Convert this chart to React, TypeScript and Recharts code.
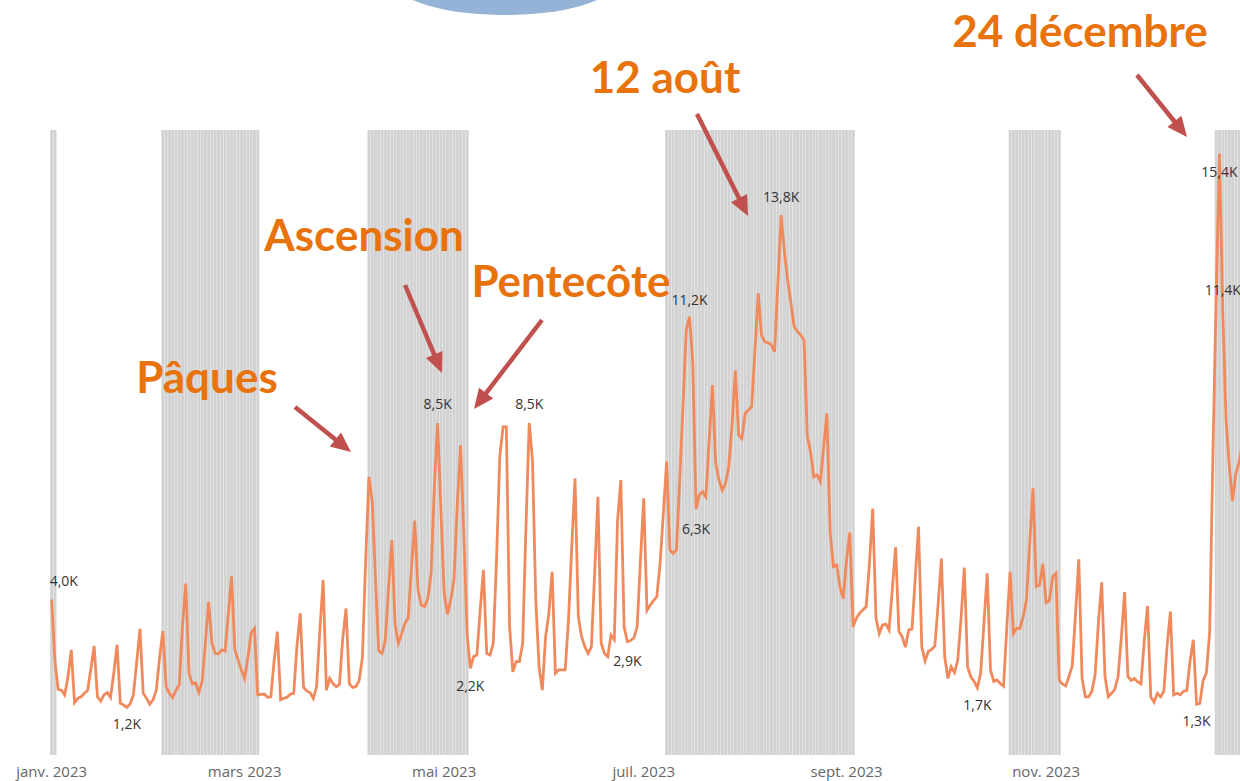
import { ComposedChart, Bar, Line, XAxis, YAxis } from 'recharts'

// Visites quotidiennes 2023, en milliers (lecture du graphique)
const JANV = [3.98, 2.4, 1.68, 1.66, 1.54, 2.0, 2.69, 1.34, 1.45, 1.49, 1.58, 1.65, 2.2, 2.79, 1.49, 1.38, 1.54, 1.6, 1.47, 2.1, 2.82, 1.32, 1.28, 1.22, 1.31, 1.54, 2.38, 3.23, 1.58, 1.45, 1.3]
const FEVR = [1.41, 1.66, 2.5, 3.17, 1.75, 1.58, 1.47, 1.66, 1.79, 3.3, 4.39, 2.09, 1.82, 1.85, 1.6, 1.88, 2.88, 3.92, 2.86, 2.6, 2.59, 2.69, 2.66, 3.6, 4.58, 2.69, 2.43, 2.18]
const MARS = [1.96, 2.5, 3.13, 3.24, 1.54, 1.55, 1.56, 1.48, 1.49, 2.4, 3.16, 1.41, 1.45, 1.48, 1.56, 1.58, 2.8, 3.63, 1.73, 1.64, 1.6, 1.45, 1.75, 3.2, 4.48, 1.66, 1.96, 1.83, 1.75, 1.81, 3.0]
const AVR = [3.75, 1.82, 1.73, 1.75, 1.9, 2.5, 5.0, 7.12, 6.5, 4.5, 2.67, 2.6, 2.94, 4.3, 5.5, 3.33, 2.86, 3.1, 3.37, 3.5, 4.8, 6.0, 4.22, 3.84, 3.8, 4.0, 4.65, 6.87, 8.5, 6.27]
const MAI = [4.14, 3.6, 3.97, 4.5, 6.4, 7.93, 5.67, 3.1, 2.22, 2.52, 2.56, 3.7, 4.74, 2.6, 2.56, 2.86, 4.99, 7.64, 8.4, 8.4, 3.28, 2.13, 2.39, 2.39, 2.86, 5.84, 8.5, 7.55, 3.97, 2.26, 1.66]
const JUIN = [3.03, 3.63, 4.69, 2.09, 2.18, 2.18, 2.18, 3.46, 5.33, 7.08, 3.54, 3.03, 2.77, 2.6, 2.77, 4.65, 6.61, 2.86, 2.6, 2.52, 3.07, 2.95, 6.0, 7.04, 3.28, 2.9, 2.93, 3.0, 3.28, 4.99]
const JUIL = [6.57, 3.7, 3.84, 3.95, 4.05, 4.9, 6.19, 7.51, 5.25, 5.16, 5.25, 7.04, 8.92, 10.88, 11.22, 10.03, 6.3, 6.66, 6.74, 6.61, 8.06, 9.47, 7.47, 7.04, 6.78, 6.95, 7.38, 8.45, 9.85, 8.19, 8.1]
const AOUT = [8.75, 8.83, 8.92, 10.37, 11.82, 10.75, 10.58, 10.55, 10.5, 10.32, 12.06, 13.82, 12.88, 12.16, 11.56, 10.96, 10.84, 10.75, 10.62, 8.15, 7.76, 7.12, 7.17, 7.0, 7.89, 8.75, 5.67, 4.82, 4.86, 4.3, 4.0]
const SEPT = [5.0, 5.7, 3.28, 3.5, 3.63, 3.71, 3.8, 4.9, 6.31, 3.5, 3.11, 3.33, 3.35, 3.2, 4.26, 5.32, 3.16, 3.03, 2.76, 3.2, 3.22, 4.53, 5.84, 2.77, 2.41, 2.65, 2.7, 2.79, 3.86, 5.03]
const OCT = [2.52, 1.96, 2.26, 2.11, 2.43, 3.49, 4.8, 2.26, 2.0, 1.88, 1.72, 2.09, 3.37, 4.65, 2.18, 1.88, 1.92, 1.83, 1.76, 3.29, 4.69, 3.11, 3.24, 3.24, 3.54, 3.97, 5.42, 6.83, 4.31, 4.35, 4.9]
const NOV = [3.9, 3.95, 4.56, 4.65, 1.91, 1.82, 1.77, 2.01, 2.29, 3.6, 5.01, 1.96, 1.49, 1.49, 1.63, 2.06, 3.4, 4.42, 2.01, 1.49, 1.58, 1.68, 2.01, 3.0, 4.17, 2.01, 1.91, 1.96, 1.87, 1.82]
const DEC = [2.9, 3.81, 1.49, 1.35, 1.58, 1.49, 1.63, 2.8, 3.67, 1.54, 1.58, 1.54, 1.63, 1.65, 2.4, 2.95, 1.3, 1.32, 1.91, 2.1, 3.14, 7.7, 11.8, 15.4, 11.4, 8.6, 7.4, 6.5, 7.2, 7.5, 8.0]

const MOIS = [JANV, FEVR, MARS, AVR, MAI, JUIN, JUIL, AOUT, SEPT, OCT, NOV, DEC]

// Vacances scolaires (toutes zones)
const VACANCES = [
  ['2023-01-01', '2023-01-02'],
  ['2023-02-04', '2023-03-05'],
  ['2023-04-08', '2023-05-08'],
  ['2023-07-08', '2023-09-03'],
  ['2023-10-21', '2023-11-05'],
  ['2023-12-23', '2023-12-31'],
]

const TICK_DATES = ['2023-01-01', '2023-03-01', '2023-05-01', '2023-07-01', '2023-09-01', '2023-11-01']
const TICK_LABELS = ['janv. 2023', 'mars 2023', 'mai 2023', 'juil. 2023', 'sept. 2023', 'nov. 2023']

const Y_MAX = 16

// étiquettes de valeurs affichées (min / max locaux)
const LABEL_POS: Record<string, { anchor: 'start' | 'middle' | 'end'; dx: number; dy: number }> = {
  '2023-01-01': { anchor: 'start', dx: -2, dy: -14 },
  '2023-01-24': { anchor: 'middle', dx: 0, dy: 22 },
  '2023-04-29': { anchor: 'middle', dx: 0, dy: -14 },
  '2023-05-09': { anchor: 'middle', dx: 0, dy: 23 },
  '2023-05-27': { anchor: 'middle', dx: 0, dy: -14 },
  '2023-06-26': { anchor: 'middle', dx: 0, dy: 24 },
  '2023-07-15': { anchor: 'middle', dx: 0, dy: -12 },
  '2023-07-17': { anchor: 'middle', dx: 0, dy: 25 },
  '2023-08-12': { anchor: 'middle', dx: 0, dy: -13 },
  '2023-10-11': { anchor: 'middle', dx: 0, dy: 22 },
  '2023-12-17': { anchor: 'middle', dx: 0, dy: 22 },
  '2023-12-24': { anchor: 'middle', dx: 0, dy: 24 },
  '2023-12-25': { anchor: 'middle', dx: 0, dy: -15 },
}

const pad = (n: number) => String(n).padStart(2, '0')

const data = MOIS.flatMap((jours, m) =>
  jours.map((v, d) => {
    const date = `2023-${pad(m + 1)}-${pad(d + 1)}`
    const enVacances = VACANCES.some(([a, b]) => date >= a && date <= b)
    return { date, visites: v, vacances: enVacances ? Y_MAX : null }
  })
)

const fmtK = (v: number) => `${v.toFixed(1).replace('.', ',')}K`

const ORANGE = '#E8720C'
const FLECHE = '#C0504D'

function renderLabel(p: any) {
  const pos = p.payload ? LABEL_POS[p.payload.date] : undefined
  if (!pos) return <g key={`lbl-${p.index}`} />
  return (
    <text
      key={`lbl-${p.index}`}
      x={p.cx + pos.dx}
      y={p.cy + pos.dy}
      textAnchor={pos.anchor}
      fontSize={14}
      fill="#333"
      fontFamily="'Open Sans', sans-serif"
    >
      {fmtK(p.value)}
    </text>
  )
}

function Fleche({ x1, y1, x2, y2 }: { x1: number; y1: number; x2: number; y2: number }) {
  const len = Math.hypot(x2 - x1, y2 - y1)
  const ux = (x2 - x1) / len
  const uy = (y2 - y1) / len
  const head = 20
  const half = 9
  const bx = x2 - ux * head
  const by = y2 - uy * head
  return (
    <g>
      <line x1={x1} y1={y1} x2={bx + ux * 2} y2={by + uy * 2} stroke={FLECHE} strokeWidth={4.5} />
      <polygon
        points={`${x2},${y2} ${bx - uy * half},${by + ux * half} ${bx + uy * half},${by - ux * half}`}
        fill={FLECHE}
      />
    </g>
  )
}

const annoStyle = { fontFamily: 'Lato, sans-serif', fontWeight: 700, fontSize: 44, fill: ORANGE }

export default function App() {
  return (
    <div style={{ position: 'fixed', left: 0, top: 0, width: 1240, height: 781, overflow: 'hidden', background: '#fff' }}>
      <ComposedChart width={1262} height={781} data={data} margin={{ top: 130, right: 18, bottom: 0, left: 50 }} barCategoryGap="6%">
        <XAxis
          dataKey="date"
          ticks={TICK_DATES}
          interval={0}
          height={26}
          tickSize={0}
          tickMargin={11}
          axisLine={false}
          tickLine={false}
          tickFormatter={(d) => TICK_LABELS[TICK_DATES.indexOf(d)] ?? ''}
          tick={{ fontSize: 15, fill: '#666', fontFamily: "'Open Sans', sans-serif" }}
        />
        <YAxis hide domain={[0, Y_MAX]} />
        <Bar dataKey="vacances" fill="#d2d2d2" isAnimationActive={false} />
        <Line
          type="linear"
          dataKey="visites"
          stroke="#F08A5C"
          strokeWidth={2.8}
          dot={renderLabel}
          activeDot={false}
          isAnimationActive={false}
        />
      </ComposedChart>
      <svg width={1240} height={781} style={{ position: 'absolute', left: 0, top: 0, pointerEvents: 'none' }}>
        <ellipse cx={505} cy={-18} rx={110} ry={33} fill="#95B3D7" />
        <text x={207} y={393} textAnchor="middle" {...annoStyle}>Pâques</text>
        <text x={364} y={251} textAnchor="middle" {...annoStyle}>Ascension</text>
        <text x={571} y={297} textAnchor="middle" {...annoStyle}>Pentecôte</text>
        <text x={665} y={93} textAnchor="middle" {...annoStyle}>12 août</text>
        <text x={1080} y={47} textAnchor="middle" {...annoStyle}>24 décembre</text>
        <Fleche x1={295} y1={407} x2={351} y2={452} />
        <Fleche x1={405} y1={285} x2={442} y2={373} />
        <Fleche x1={542} y1={320} x2={474} y2={409} />
        <Fleche x1={697} y1={114} x2={748} y2={216} />
        <Fleche x1={1137} y1={75} x2={1187} y2={137} />
      </svg>
    </div>
  )
}
